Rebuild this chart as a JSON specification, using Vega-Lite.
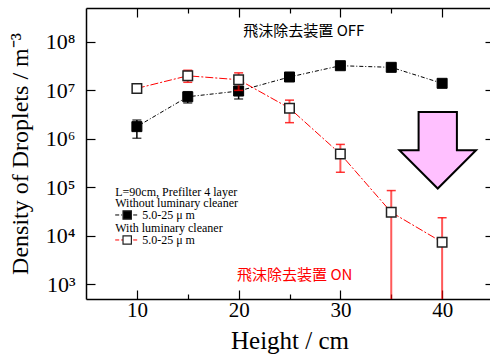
{
  "$schema": "https://vega.github.io/schema/vega-lite/v6.json",
  "width": 407,
  "height": 291,
  "autosize": "none",
  "padding": {"left": 86, "top": 8, "right": 0, "bottom": 57},
  "config": {"view": {"stroke": null}, "axis": {"grid": false}},
  "datasets": {
    "pts": [
      {"series": "without", "h": 10, "d": 1.79e6, "lo": 1.03e6, "hi": 2.45e6},
      {"series": "without", "h": 15, "d": 7.4e6, "lo": 5.5e6, "hi": 9.4e6},
      {"series": "without", "h": 20, "d": 9.7e6, "lo": 6.65e6, "hi": 1.2e7},
      {"series": "without", "h": 25, "d": 1.89e7, "lo": 1.75e7, "hi": 2.05e7},
      {"series": "without", "h": 30, "d": 3.23e7, "lo": 3.0e7, "hi": 3.45e7},
      {"series": "without", "h": 35, "d": 2.99e7, "lo": 2.8e7, "hi": 3.2e7},
      {"series": "without", "h": 40, "d": 1.4e7, "lo": 1.3e7, "hi": 1.5e7},
      {"series": "with", "h": 10, "d": 1.1e7, "lo": 8.8e6, "hi": 1.3e7},
      {"series": "with", "h": 15, "d": 2.0e7, "lo": 1.47e7, "hi": 2.6e7},
      {"series": "with", "h": 20, "d": 1.66e7, "lo": 1.0e7, "hi": 2.3e7},
      {"series": "with", "h": 25, "d": 4.3e6, "lo": 2.16e6, "hi": 6.3e6},
      {"series": "with", "h": 30, "d": 4.9e5, "lo": 2.05e5, "hi": 7.7e5},
      {"series": "with", "h": 35, "d": 3.07e4, "lo": 1, "hi": 8.6e4},
      {"series": "with", "h": 40, "d": 7.4e3, "lo": 1, "hi": 2.37e4}
    ],
    "notes": [
      {"x": 20.46, "y": 1.68e8, "t": "飛沫除去装置 OFF", "c": "black"},
      {"x": 19.85, "y": 1560, "t": "飛沫除去装置 ON", "c": "red"}
    ],
    "legtext": [
      {"x": 7.87, "y": 81500, "t": "L=90cm, Prefilter 4 layer"},
      {"x": 7.87, "y": 47000, "t": "Without luminary cleaner"},
      {"x": 10.52, "y": 27000, "t": "5.0-25 μ m"},
      {"x": 7.87, "y": 14350, "t": "With luminary cleaner"},
      {"x": 10.52, "y": 8240, "t": "5.0-25 μ m"}
    ],
    "legsym": [
      {"series": "without", "x": 7.87, "x2": 10.03, "xm": 9.05, "y": 27000},
      {"series": "with", "x": 7.87, "x2": 10.03, "xm": 9.05, "y": 8240}
    ],
    "arrow": [{"x": 39.57, "y": 5.85e5}]
  },
  "resolve": {"axis": {"x": "independent", "y": "independent"}},
  "layer": [
    {
      "data": {"name": "pts"},
      "transform": [{"filter": "datum.series === 'without'"}],
      "mark": {"type": "line", "color": "black", "strokeWidth": 1, "strokeDash": [4, 2, 1, 2]},
      "encoding": {
        "x": {"field": "h", "type": "quantitative",
          "scale": {"domain": [5, 45], "nice": false, "zero": false},
          "axis": {"orient": "bottom", "values": [10, 15, 20, 25, 30, 35, 40],
            "labelExpr": "datum.value % 10 === 0 ? datum.label : ''",
            "tickSize": {"condition": {"test": "datum.value % 10 === 0", "value": -9}, "value": -5},
            "tickColor": "black", "tickWidth": 1.2, "domainColor": "black", "domainWidth": 1.5,
            "labelFont": "Liberation Serif", "labelFontSize": 21, "labelColor": "black", "labelPadding": 9,
            "title": "Height / cm", "titleFont": "Liberation Serif", "titleFontSize": 25,
            "titleFontWeight": "normal", "titleColor": "black", "titlePadding": 8}},
        "y": {"field": "d", "type": "quantitative",
          "scale": {"type": "log", "domain": [500, 5e8], "nice": false},
          "axis": {"orient": "left", "values": [1e3, 1e4, 1e5, 1e6, 1e7, 1e8],
            "labelExpr": "'10' + ['⁰','¹','²','³','⁴','⁵','⁶','⁷','⁸','⁹'][round(log(datum.value)/LN10)]",
            "tickSize": -9, "tickColor": "black", "tickWidth": 1.2, "domainColor": "black", "domainWidth": 1.5,
            "labelFont": "Liberation Serif", "labelFontSize": 22, "labelColor": "black", "labelPadding": 20,
            "title": "Density of Droplets / m⁻³", "titleFont": "Liberation Serif", "titleFontSize": 24,
            "titleFontWeight": "normal", "titleColor": "black", "titlePadding": 13}}
      }
    },
    {
      "data": {"name": "pts"},
      "transform": [{"filter": "datum.series === 'without'"}],
      "mark": {"type": "rule", "color": "black", "strokeWidth": 1.5, "clip": true},
      "encoding": {
        "x": {"field": "h", "type": "quantitative", "axis": null},
        "y": {"field": "lo", "type": "quantitative", "axis": null},
        "y2": {"field": "hi"}
      }
    },
    {
      "data": {"name": "pts"},
      "transform": [{"filter": "datum.series === 'without'"}, {"fold": ["lo", "hi"], "as": ["k", "v"]}, {"filter": "datum.v >= 500"}],
      "mark": {"type": "tick", "orient": "horizontal", "color": "black", "size": 9, "thickness": 1.5},
      "encoding": {
        "x": {"field": "h", "type": "quantitative", "axis": null},
        "y": {"field": "v", "type": "quantitative", "axis": null}
      }
    },
    {
      "data": {"name": "pts"},
      "transform": [{"filter": "datum.series === 'without'"}],
      "mark": {"type": "point", "shape": "square", "filled": true, "fill": "black", "stroke": "black", "strokeWidth": 1, "size": 100, "opacity": 1},
      "encoding": {
        "x": {"field": "h", "type": "quantitative", "axis": null},
        "y": {"field": "d", "type": "quantitative", "axis": null}
      }
    },
    {
      "data": {"name": "pts"},
      "transform": [{"filter": "datum.series === 'with'"}],
      "mark": {"type": "line", "color": "red", "strokeWidth": 1, "strokeDash": [8, 2, 2, 2]},
      "encoding": {
        "x": {"field": "h", "type": "quantitative",
          "axis": {"orient": "top", "values": [10, 15, 20, 25, 30, 35, 40], "labels": false, "title": null,
            "tickSize": {"condition": {"test": "datum.value % 10 === 0", "value": -9}, "value": -5},
            "tickColor": "black", "tickWidth": 1.2, "domainColor": "black", "domainWidth": 1.5}},
        "y": {"field": "d", "type": "quantitative",
          "axis": {"orient": "right", "values": [1e3, 1e4, 1e5, 1e6, 1e7, 1e8], "labels": false, "title": null,
            "tickSize": -8, "tickColor": "black", "tickWidth": 1.2, "domainColor": "black", "domainWidth": 1.5}}
      }
    },
    {
      "data": {"name": "pts"},
      "transform": [{"filter": "datum.series === 'with'"}],
      "mark": {"type": "rule", "color": "red", "opacity": 0.65, "strokeWidth": 2, "clip": true},
      "encoding": {
        "x": {"field": "h", "type": "quantitative", "axis": null},
        "y": {"field": "lo", "type": "quantitative", "axis": null},
        "y2": {"field": "hi"}
      }
    },
    {
      "data": {"name": "pts"},
      "transform": [{"filter": "datum.series === 'with'"}, {"fold": ["lo", "hi"], "as": ["k", "v"]}, {"filter": "datum.v >= 500"}],
      "mark": {"type": "tick", "orient": "horizontal", "color": "red", "opacity": 0.8, "size": 9, "thickness": 1.5},
      "encoding": {
        "x": {"field": "h", "type": "quantitative", "axis": null},
        "y": {"field": "v", "type": "quantitative", "axis": null}
      }
    },
    {
      "data": {"name": "pts"},
      "transform": [{"filter": "datum.series === 'with'"}],
      "mark": {"type": "point", "shape": "square", "filled": true, "fill": "white", "stroke": "#222222", "strokeWidth": 1.5, "size": 90, "opacity": 1},
      "encoding": {
        "x": {"field": "h", "type": "quantitative", "axis": null},
        "y": {"field": "d", "type": "quantitative", "axis": null}
      }
    },
    {
      "data": {"name": "arrow"},
      "mark": {"type": "point", "shape": "M-0.5,-1L0.5,-1L0.5,0L1,0L0,1L-1,0L-0.5,0Z", "filled": true, "fill": "#FFC0FF", "stroke": "black", "strokeWidth": 2, "size": 5868, "opacity": 1},
      "encoding": {
        "x": {"field": "x", "type": "quantitative", "axis": null},
        "y": {"field": "y", "type": "quantitative", "axis": null}
      }
    },
    {
      "data": {"name": "notes"},
      "mark": {"type": "text", "align": "left", "baseline": "middle", "font": "Noto Sans CJK JP", "fontSize": 15},
      "encoding": {
        "x": {"field": "x", "type": "quantitative", "axis": null},
        "y": {"field": "y", "type": "quantitative", "axis": null},
        "text": {"field": "t"},
        "color": {"field": "c", "type": "nominal", "scale": null}
      }
    },
    {
      "data": {"name": "legtext"},
      "mark": {"type": "text", "align": "left", "baseline": "middle", "font": "Liberation Serif", "fontSize": 12, "color": "black"},
      "encoding": {
        "x": {"field": "x", "type": "quantitative", "axis": null},
        "y": {"field": "y", "type": "quantitative", "axis": null},
        "text": {"field": "t"}
      }
    },
    {
      "data": {"name": "legsym"},
      "transform": [{"filter": "datum.series === 'without'"}],
      "mark": {"type": "rule", "color": "black", "strokeWidth": 1, "strokeDash": [4, 2, 1, 2]},
      "encoding": {
        "x": {"field": "x", "type": "quantitative", "axis": null},
        "x2": {"field": "x2"},
        "y": {"field": "y", "type": "quantitative", "axis": null}
      }
    },
    {
      "data": {"name": "legsym"},
      "transform": [{"filter": "datum.series === 'with'"}],
      "mark": {"type": "rule", "color": "red", "strokeWidth": 1, "strokeDash": [4, 2]},
      "encoding": {
        "x": {"field": "x", "type": "quantitative", "axis": null},
        "x2": {"field": "x2"},
        "y": {"field": "y", "type": "quantitative", "axis": null}
      }
    },
    {
      "data": {"name": "legsym"},
      "mark": {"type": "point", "shape": "square", "filled": true, "stroke": "#222222", "strokeWidth": 1.2, "size": 70, "opacity": 1},
      "encoding": {
        "x": {"field": "xm", "type": "quantitative", "axis": null},
        "y": {"field": "y", "type": "quantitative", "axis": null},
        "fill": {"field": "series", "type": "nominal", "scale": {"domain": ["without", "with"], "range": ["black", "white"]}, "legend": null}
      }
    }
  ]
}
